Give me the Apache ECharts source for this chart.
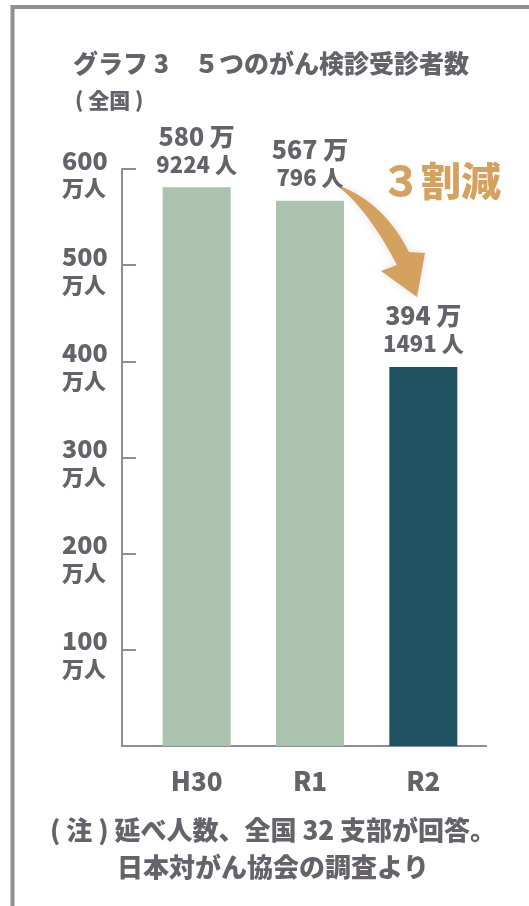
<!DOCTYPE html>
<html>
<head>
<meta charset="utf-8">
<script src="https://cdn.jsdelivr.net/npm/echarts@6/dist/echarts.min.js"></script>
<style>
  html, body { margin: 0; padding: 0; background: #fff; }
  #main { width: 529px; height: 906px; }
</style>
</head>
<body>
<div id="main"></div>
<script>
// 受診者数 (人)
const years = ['H30', 'R1', 'R2'];
const examinees = [5809224, 5670796, 3941491];
const yTicks = [0, 100, 200, 300, 400, 500, 600];

const FONT = '"Noto Sans CJK JP", "Noto Sans", sans-serif';
const W = 900;
const textColor = '#65626a';
const axisColor = '#8e8d92';
const lightBar = '#abc2ae';
const darkBar = '#1f5361';
const accent = '#d4a15f';

// sample a quadratic curve into points (for the curved arrow outline)
function quad(p0, c, p1, n) {
    var pts = [];
    for (var i = 0; i <= n; i++) {
        var t = i / n, u = 1 - t;
        pts.push([u * u * p0[0] + 2 * u * t * c[0] + t * t * p1[0],
                  u * u * p0[1] + 2 * u * t * c[1] + t * t * p1[1]]);
    }
    return pts;
}
var arrowPts = []
    .concat(quad([340, 186], [384, 203], [409, 252], 16))
    .concat([[425, 253], [417, 297], [381, 271]])
    .concat(quad([397, 265], [368, 210], [340, 188], 16));

var chartDom = document.getElementById('main');
var myChart = echarts.init(chartDom);
var option;

option = {
    animation: false,
    backgroundColor: '#fff',
    textStyle: { fontFamily: FONT },
    title: [
        {
            text: 'グラフ 3　５つのがん検診受診者数',
            left: 68,
            top: 46,
            textStyle: { fontFamily: FONT, fontSize: 25, fontWeight: W, color: textColor }
        },
        {
            text: '( 全国 )',
            left: 70,
            top: 85,
            textStyle: { fontFamily: FONT, fontSize: 21, fontWeight: W, color: textColor }
        },
        {
            text: '( 注 ) 延べ人数、全国 32 支部が回答。\n日本対がん協会の調査より',
            left: 268,
            top: 807,
            textAlign: 'center',
            textStyle: {
                fontFamily: FONT, fontSize: 26, fontWeight: W, color: textColor,
                lineHeight: 37, align: 'center'
            }
        }
    ],
    grid: { left: 140, right: 49, top: 169, bottom: 160 },
    xAxis: {
        type: 'category',
        data: years,
        axisLine: { show: false },
        axisTick: { show: false },
        axisLabel: {
            margin: 22,
            fontFamily: FONT, fontSize: 26, fontWeight: W, color: textColor
        }
    },
    yAxis: {
        type: 'value',
        min: yTicks[0],
        max: yTicks[yTicks.length - 1],
        interval: yTicks[1] - yTicks[0],
        offset: 18,
        axisLine: { show: true, lineStyle: { color: axisColor, width: 2 } },
        axisTick: { show: true, inside: true, length: 14, lineStyle: { color: axisColor, width: 2 } },
        splitLine: { show: false },
        axisLabel: {
            align: 'left',
            margin: 60,
            padding: [10, 0, 0, 0],
            formatter: function (v) {
                return v === 0 ? '' : '{n|' + v + '}\n{u|万人}';
            },
            rich: {
                n: { fontFamily: FONT, fontSize: 25, fontWeight: W, color: textColor, lineHeight: 28 },
                u: { fontFamily: FONT, fontSize: 22, fontWeight: W, color: textColor, lineHeight: 28 }
            }
        }
    },
    series: [
        {
            type: 'bar',
            barWidth: 68,
            data: examinees.map(function (p, i) {
                return {
                    value: p / 10000,
                    itemStyle: { color: i === examinees.length - 1 ? darkBar : lightBar }
                };
            }),
            label: {
                show: true,
                position: 'top',
                distance: 10,
                formatter: function (params) {
                    var p = examinees[params.dataIndex];
                    return '{a|' + Math.floor(p / 10000) + ' 万}\n{b|' + (p % 10000) + ' 人}';
                },
                rich: {
                    a: { fontFamily: FONT, fontSize: 25, fontWeight: W, color: textColor, lineHeight: 30, align: 'center' },
                    b: { fontFamily: FONT, fontSize: 22, fontWeight: W, color: textColor, lineHeight: 26, align: 'center' }
                }
            }
        }
    ],
    graphic: [
        {
            // frame
            type: 'rect',
            shape: { x: 12.5, y: 7, width: 700, height: 1100 },
            style: { fill: 'none', stroke: '#8f8f8f', lineWidth: 4 },
            silent: true
        },
        {
            // baseline
            type: 'line',
            shape: { x1: 121, y1: 746, x2: 487, y2: 746 },
            style: { stroke: axisColor, lineWidth: 2 },
            silent: true
        },
        {
            type: 'polygon',
            shape: { points: arrowPts },
            style: { fill: accent, shadowBlur: 8, shadowColor: 'rgba(0,0,0,0.12)' },
            silent: true
        },
        {
            type: 'text',
            left: 381,
            top: 161,
            style: {
                text: '３割減',
                font: W + ' 40px ' + FONT,
                fill: accent
            },
            silent: true
        }
    ]
};

option && myChart.setOption(option);
</script>
</body>
</html>
